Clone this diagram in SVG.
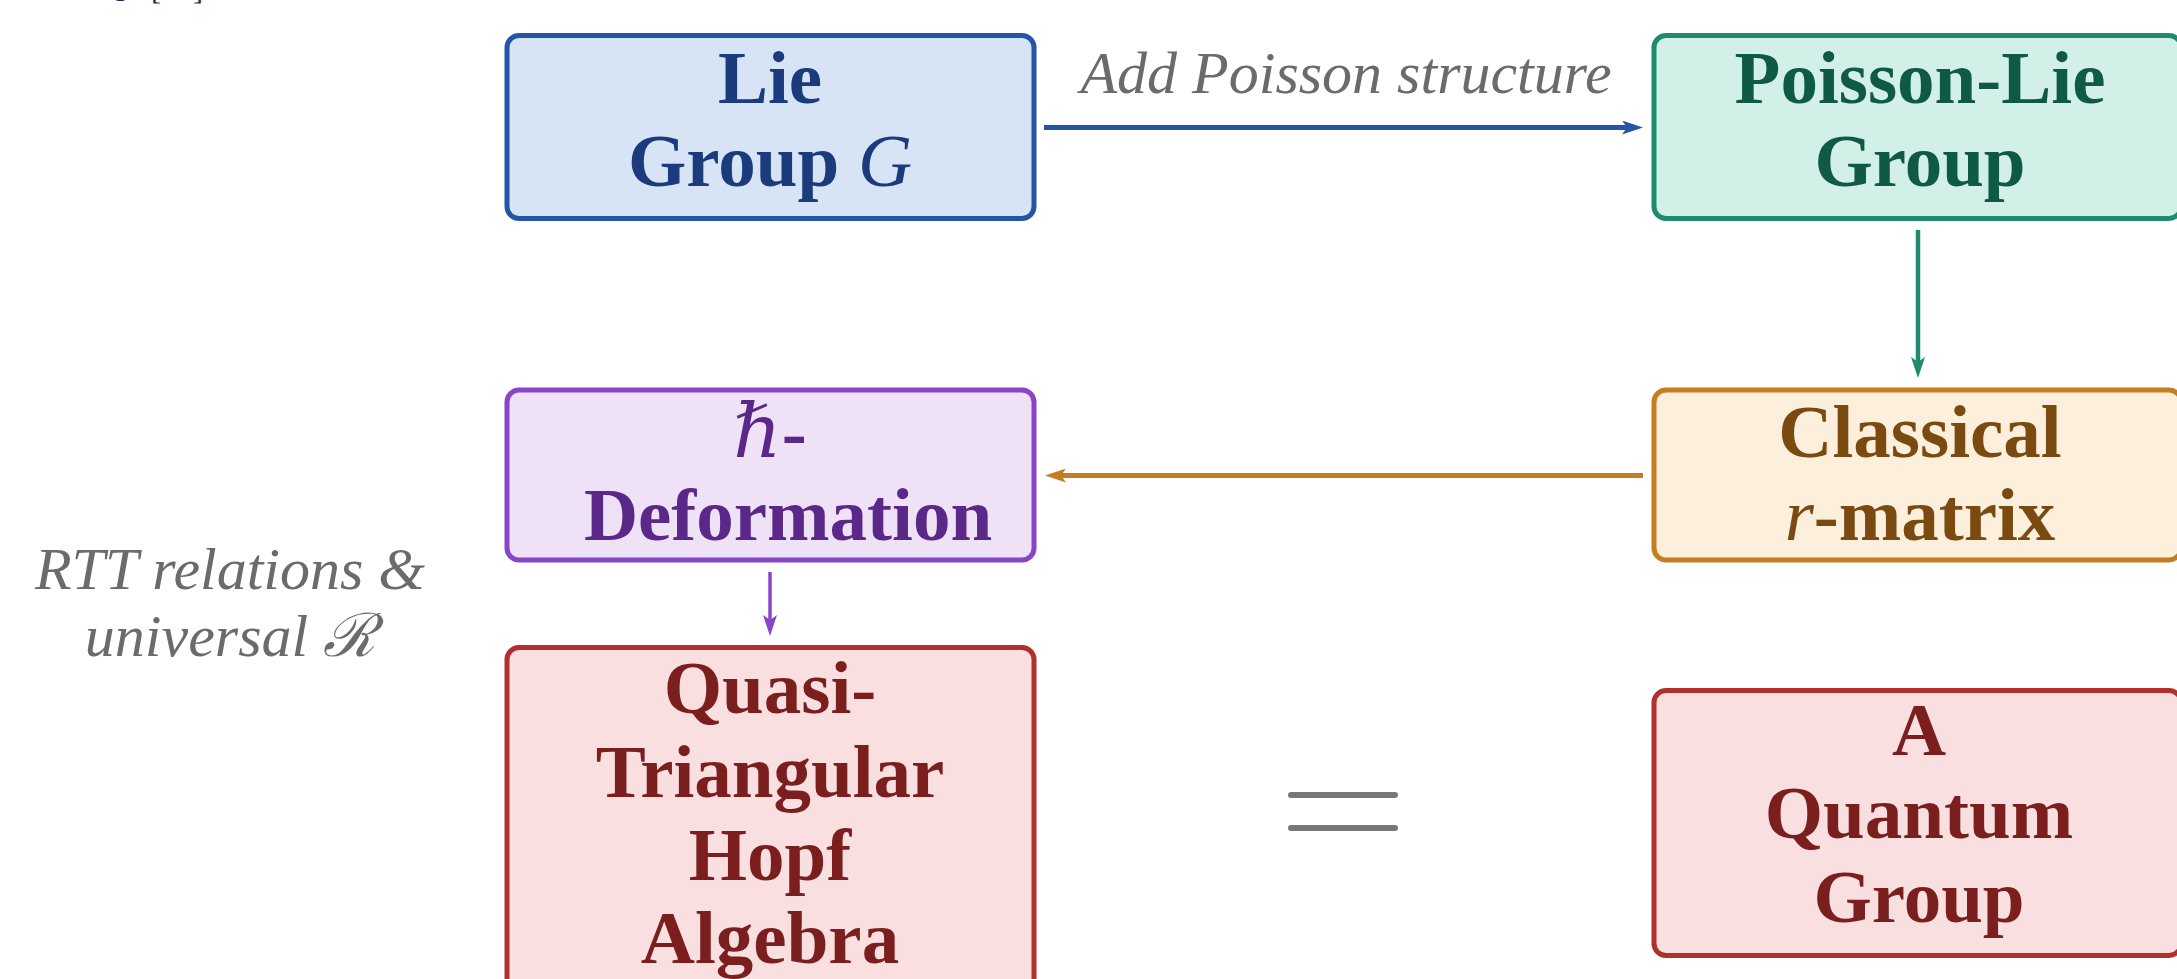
<svg xmlns="http://www.w3.org/2000/svg" width="2177" height="979" viewBox="0 0 2177 979">
<style>
.box{stroke-width:5}
.t{font-family:"Liberation Serif","DejaVu Serif",serif;font-weight:bold;font-size:75px;text-anchor:middle}
.m{font-weight:normal;font-style:italic}
.lbl{font-family:"Liberation Serif","DejaVu Serif",serif;font-style:italic;font-size:60px;fill:#6b6b6b;text-anchor:middle}
.blue rect{fill:#d6e4f5;stroke:#2456a8}
.blue text{fill:#1b3b7c}
.green rect{fill:#d3f0e8;stroke:#1e8a6e}
.green text{fill:#0f5a46}
.orange rect{fill:#fcefdc;stroke:#c47d20}
.orange text{fill:#7a4a10}
.purple rect{fill:#efe2f7;stroke:#8a44c8}
.purple text{fill:#5a2888}
.red rect{fill:#f9dfe0;stroke:#b03030}
.red text{fill:#7a1e1e}
</style>
<defs>
<marker id="aBlue" viewBox="0 0 21 14" refX="5" refY="7" markerWidth="21" markerHeight="14" markerUnits="userSpaceOnUse" orient="auto"><path d="M0,0 L21,7 L0,14 L5,7 z" fill="#2456a8"/></marker>
<marker id="aGreen" viewBox="0 0 21 14" refX="5" refY="7" markerWidth="21" markerHeight="14" markerUnits="userSpaceOnUse" orient="auto"><path d="M0,0 L21,7 L0,14 L5,7 z" fill="#1e8a6e"/></marker>
<marker id="aOrange" viewBox="0 0 21 14" refX="5" refY="7" markerWidth="21" markerHeight="14" markerUnits="userSpaceOnUse" orient="auto"><path d="M0,0 L21,7 L0,14 L5,7 z" fill="#c47d20"/></marker>
<marker id="aPurple" viewBox="0 0 21 14" refX="5" refY="7" markerWidth="21" markerHeight="14" markerUnits="userSpaceOnUse" orient="auto"><path d="M0,0 L21,7 L0,14 L5,7 z" fill="#8a44c8"/></marker>
</defs>
<rect width="2177" height="979" fill="#ffffff"/>

<g id="fragment" font-family="Liberation Serif, serif" font-size="30" fill="#1b2a5c">
<text x="113" y="-5">g</text>
<text x="151" y="-1">[</text>
<text x="193" y="-1">]</text>
</g>

<g id="connectors">
<line x1="1044" y1="127.5" x2="1627" y2="127.5" stroke="#2456a8" stroke-width="5" marker-end="url(#aBlue)"/>
<line x1="1918" y1="230" x2="1918" y2="362" stroke="#1e8a6e" stroke-width="4.5" marker-end="url(#aGreen)"/>
<line x1="1643" y1="475.5" x2="1061" y2="475.5" stroke="#c47d20" stroke-width="5" marker-end="url(#aOrange)"/>
<line x1="770" y1="572" x2="770" y2="620" stroke="#8a44c8" stroke-width="3.5" marker-end="url(#aPurple)"/>
<text class="lbl" x="1346" y="93">Add Poisson structure</text>
</g>

<g id="lie-group" class="blue">
<rect class="box" x="507" y="35.5" width="527" height="183" rx="12"/>
<text class="t" x="770" y="103">Lie</text>
<text class="t" x="770" y="186">Group <tspan class="m">G</tspan></text>
</g>

<g id="poisson-lie-group" class="green">
<rect class="box" x="1654" y="35.5" width="527" height="183" rx="12"/>
<text class="t" x="1920" y="103">Poisson-Lie</text>
<text class="t" x="1920" y="186">Group</text>
</g>

<g id="classical-r-matrix" class="orange">
<rect class="box" x="1654" y="390" width="527" height="170" rx="12"/>
<text class="t" x="1920" y="457">Classical</text>
<text class="t" x="1920" y="540"><tspan class="m">r</tspan>-matrix</text>
</g>

<g id="hbar-deformation" class="purple">
<rect class="box" x="507" y="390" width="527" height="170" rx="12"/>
<text class="t" x="770" y="457"><tspan class="m">ℏ</tspan>-</text>
<text class="t" x="788" y="540">Deformation</text>
</g>

<g id="quasi-triangular-hopf-algebra" class="red">
<rect class="box" x="507" y="647.5" width="527" height="420" rx="12"/>
<text class="t" x="770" y="713">Quasi-</text>
<text class="t" x="770" y="797">Triangular</text>
<text class="t" x="770" y="880">Hopf</text>
<text class="t" x="770" y="963">Algebra</text>
</g>

<g id="quantum-group" class="red">
<rect class="box" x="1654" y="690.5" width="527" height="265" rx="12"/>
<text class="t" x="1919" y="755">A</text>
<text class="t" x="1919" y="838">Quantum</text>
<text class="t" x="1919" y="922">Group</text>
</g>

<g id="equals">
<line x1="1291" y1="795" x2="1395" y2="795" stroke="#777777" stroke-width="6" stroke-linecap="round"/>
<line x1="1291" y1="828" x2="1395" y2="828" stroke="#777777" stroke-width="6" stroke-linecap="round"/>
</g>

<g id="rtt-label">
<text class="lbl" x="230" y="589">RTT relations &amp;</text>
<text class="lbl" x="230" y="656">universal <tspan font-family="DejaVu Serif, serif">ℛ</tspan></text>
</g>
</svg>
